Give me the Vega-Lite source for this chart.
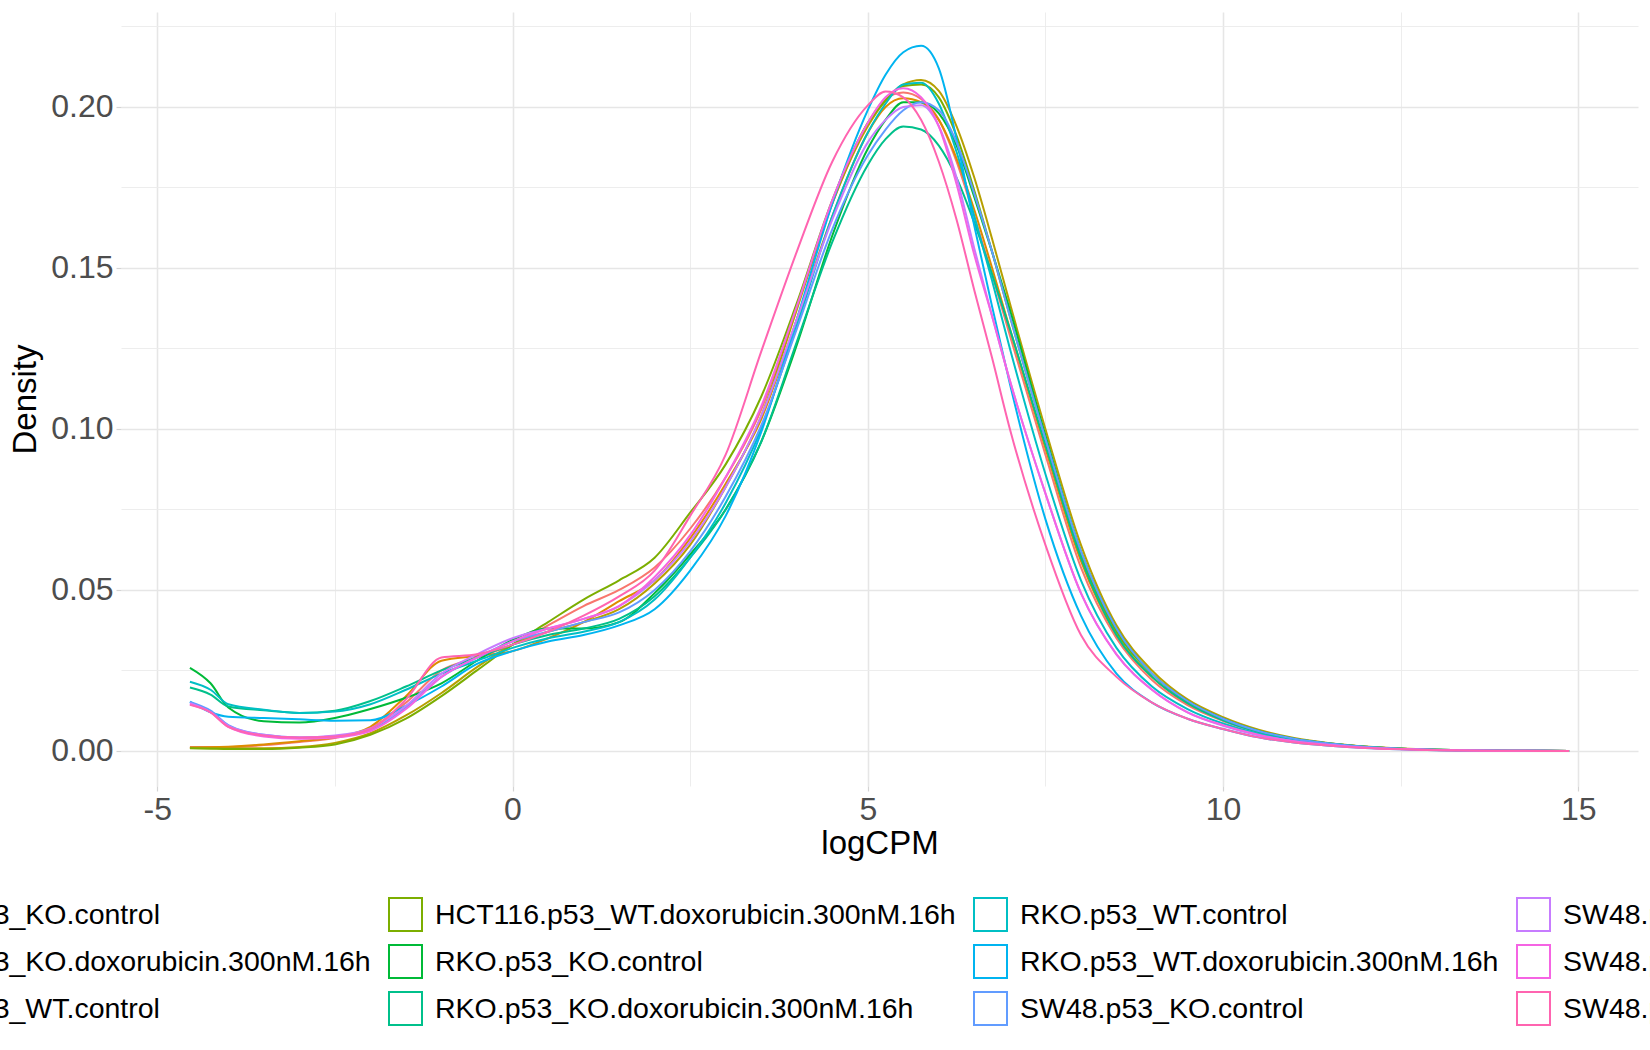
{
"$schema": "https://vega.github.io/schema/vega-lite/v6.json",
"width": 1517, "height": 774,
"autosize": {"type": "none"},
"padding": {"left": 121, "top": 12, "right": 12, "bottom": 264},
"background": "white",
"config": {"view": {"stroke": null}, "font": "Liberation Sans"},
"data": {"values": [
{"s":"HCT116.p53_KO.control","x":-4.54,"y":0.0012},{"s":"HCT116.p53_KO.control","x":-4.25,"y":0.0012},{"s":"HCT116.p53_KO.control","x":-4,"y":0.0012},{"s":"HCT116.p53_KO.control","x":-3.5,"y":0.0018},{"s":"HCT116.p53_KO.control","x":-3,"y":0.0028},{"s":"HCT116.p53_KO.control","x":-2.5,"y":0.004},{"s":"HCT116.p53_KO.control","x":-2,"y":0.007},{"s":"HCT116.p53_KO.control","x":-1.5,"y":0.015},{"s":"HCT116.p53_KO.control","x":-1,"y":0.025},{"s":"HCT116.p53_KO.control","x":-0.5,"y":0.029},{"s":"HCT116.p53_KO.control","x":0,"y":0.033},{"s":"HCT116.p53_KO.control","x":0.5,"y":0.039},{"s":"HCT116.p53_KO.control","x":1,"y":0.045},{"s":"HCT116.p53_KO.control","x":1.5,"y":0.05},{"s":"HCT116.p53_KO.control","x":2,"y":0.057},{"s":"HCT116.p53_KO.control","x":2.5,"y":0.069},{"s":"HCT116.p53_KO.control","x":3,"y":0.085},{"s":"HCT116.p53_KO.control","x":3.5,"y":0.106},{"s":"HCT116.p53_KO.control","x":4,"y":0.138},{"s":"HCT116.p53_KO.control","x":4.5,"y":0.17},{"s":"HCT116.p53_KO.control","x":5,"y":0.195},{"s":"HCT116.p53_KO.control","x":5.25,"y":0.2025},{"s":"HCT116.p53_KO.control","x":5.5,"y":0.2045},{"s":"HCT116.p53_KO.control","x":5.75,"y":0.2025},{"s":"HCT116.p53_KO.control","x":6,"y":0.196},{"s":"HCT116.p53_KO.control","x":6.25,"y":0.183},{"s":"HCT116.p53_KO.control","x":6.5,"y":0.166},{"s":"HCT116.p53_KO.control","x":6.75,"y":0.148},{"s":"HCT116.p53_KO.control","x":7,"y":0.129},{"s":"HCT116.p53_KO.control","x":7.5,"y":0.092},{"s":"HCT116.p53_KO.control","x":8,"y":0.057},{"s":"HCT116.p53_KO.control","x":8.5,"y":0.035},{"s":"HCT116.p53_KO.control","x":9,"y":0.022},{"s":"HCT116.p53_KO.control","x":9.5,"y":0.0142},{"s":"HCT116.p53_KO.control","x":10,"y":0.0093},{"s":"HCT116.p53_KO.control","x":10.5,"y":0.0058},{"s":"HCT116.p53_KO.control","x":11,"y":0.0035},{"s":"HCT116.p53_KO.control","x":11.5,"y":0.0021},{"s":"HCT116.p53_KO.control","x":12,"y":0.0012},{"s":"HCT116.p53_KO.control","x":12.5,"y":0.00065},{"s":"HCT116.p53_KO.control","x":13,"y":0.0003},{"s":"HCT116.p53_KO.control","x":14,"y":0.00005},{"s":"HCT116.p53_KO.control","x":14.87,"y":0},
{"s":"HCT116.p53_KO.doxorubicin.300nM.16h","x":-4.54,"y":0.001},{"s":"HCT116.p53_KO.doxorubicin.300nM.16h","x":-4.25,"y":0.0011},{"s":"HCT116.p53_KO.doxorubicin.300nM.16h","x":-4,"y":0.0013},{"s":"HCT116.p53_KO.doxorubicin.300nM.16h","x":-3.5,"y":0.002},{"s":"HCT116.p53_KO.doxorubicin.300nM.16h","x":-3,"y":0.003},{"s":"HCT116.p53_KO.doxorubicin.300nM.16h","x":-2.5,"y":0.0042},{"s":"HCT116.p53_KO.doxorubicin.300nM.16h","x":-2,"y":0.0075},{"s":"HCT116.p53_KO.doxorubicin.300nM.16h","x":-1.5,"y":0.017},{"s":"HCT116.p53_KO.doxorubicin.300nM.16h","x":-1,"y":0.028},{"s":"HCT116.p53_KO.doxorubicin.300nM.16h","x":-0.5,"y":0.0295},{"s":"HCT116.p53_KO.doxorubicin.300nM.16h","x":0,"y":0.031},{"s":"HCT116.p53_KO.doxorubicin.300nM.16h","x":0.5,"y":0.035},{"s":"HCT116.p53_KO.doxorubicin.300nM.16h","x":1,"y":0.04},{"s":"HCT116.p53_KO.doxorubicin.300nM.16h","x":1.5,"y":0.0465},{"s":"HCT116.p53_KO.doxorubicin.300nM.16h","x":2,"y":0.053},{"s":"HCT116.p53_KO.doxorubicin.300nM.16h","x":2.5,"y":0.066},{"s":"HCT116.p53_KO.doxorubicin.300nM.16h","x":3,"y":0.083},{"s":"HCT116.p53_KO.doxorubicin.300nM.16h","x":3.5,"y":0.103},{"s":"HCT116.p53_KO.doxorubicin.300nM.16h","x":4,"y":0.134},{"s":"HCT116.p53_KO.doxorubicin.300nM.16h","x":4.5,"y":0.166},{"s":"HCT116.p53_KO.doxorubicin.300nM.16h","x":5,"y":0.192},{"s":"HCT116.p53_KO.doxorubicin.300nM.16h","x":5.25,"y":0.2},{"s":"HCT116.p53_KO.doxorubicin.300nM.16h","x":5.5,"y":0.2027},{"s":"HCT116.p53_KO.doxorubicin.300nM.16h","x":5.75,"y":0.2015},{"s":"HCT116.p53_KO.doxorubicin.300nM.16h","x":6,"y":0.196},{"s":"HCT116.p53_KO.doxorubicin.300nM.16h","x":6.25,"y":0.184},{"s":"HCT116.p53_KO.doxorubicin.300nM.16h","x":6.5,"y":0.168},{"s":"HCT116.p53_KO.doxorubicin.300nM.16h","x":6.75,"y":0.15},{"s":"HCT116.p53_KO.doxorubicin.300nM.16h","x":7,"y":0.131},{"s":"HCT116.p53_KO.doxorubicin.300nM.16h","x":7.5,"y":0.094},{"s":"HCT116.p53_KO.doxorubicin.300nM.16h","x":8,"y":0.059},{"s":"HCT116.p53_KO.doxorubicin.300nM.16h","x":8.5,"y":0.036},{"s":"HCT116.p53_KO.doxorubicin.300nM.16h","x":9,"y":0.023},{"s":"HCT116.p53_KO.doxorubicin.300nM.16h","x":9.5,"y":0.0148},{"s":"HCT116.p53_KO.doxorubicin.300nM.16h","x":10,"y":0.0097},{"s":"HCT116.p53_KO.doxorubicin.300nM.16h","x":10.5,"y":0.006},{"s":"HCT116.p53_KO.doxorubicin.300nM.16h","x":11,"y":0.0037},{"s":"HCT116.p53_KO.doxorubicin.300nM.16h","x":11.5,"y":0.0022},{"s":"HCT116.p53_KO.doxorubicin.300nM.16h","x":12,"y":0.0013},{"s":"HCT116.p53_KO.doxorubicin.300nM.16h","x":12.5,"y":0.0007},{"s":"HCT116.p53_KO.doxorubicin.300nM.16h","x":13,"y":0.00034},{"s":"HCT116.p53_KO.doxorubicin.300nM.16h","x":14,"y":0.00005},{"s":"HCT116.p53_KO.doxorubicin.300nM.16h","x":14.87,"y":0},
{"s":"HCT116.p53_WT.control","x":-4.54,"y":0.001},{"s":"HCT116.p53_WT.control","x":-4.25,"y":0.0009},{"s":"HCT116.p53_WT.control","x":-4,"y":0.0008},{"s":"HCT116.p53_WT.control","x":-3.5,"y":0.0008},{"s":"HCT116.p53_WT.control","x":-3,"y":0.0012},{"s":"HCT116.p53_WT.control","x":-2.5,"y":0.0025},{"s":"HCT116.p53_WT.control","x":-2,"y":0.0055},{"s":"HCT116.p53_WT.control","x":-1.5,"y":0.011},{"s":"HCT116.p53_WT.control","x":-1,"y":0.018},{"s":"HCT116.p53_WT.control","x":-0.5,"y":0.026},{"s":"HCT116.p53_WT.control","x":0,"y":0.033},{"s":"HCT116.p53_WT.control","x":0.5,"y":0.037},{"s":"HCT116.p53_WT.control","x":1,"y":0.04},{"s":"HCT116.p53_WT.control","x":1.5,"y":0.044},{"s":"HCT116.p53_WT.control","x":2,"y":0.052},{"s":"HCT116.p53_WT.control","x":2.5,"y":0.064},{"s":"HCT116.p53_WT.control","x":3,"y":0.082},{"s":"HCT116.p53_WT.control","x":3.5,"y":0.104},{"s":"HCT116.p53_WT.control","x":4,"y":0.137},{"s":"HCT116.p53_WT.control","x":4.5,"y":0.17},{"s":"HCT116.p53_WT.control","x":5,"y":0.194},{"s":"HCT116.p53_WT.control","x":5.25,"y":0.202},{"s":"HCT116.p53_WT.control","x":5.5,"y":0.207},{"s":"HCT116.p53_WT.control","x":5.75,"y":0.2084},{"s":"HCT116.p53_WT.control","x":6,"y":0.205},{"s":"HCT116.p53_WT.control","x":6.25,"y":0.194},{"s":"HCT116.p53_WT.control","x":6.5,"y":0.178},{"s":"HCT116.p53_WT.control","x":6.75,"y":0.159},{"s":"HCT116.p53_WT.control","x":7,"y":0.139},{"s":"HCT116.p53_WT.control","x":7.5,"y":0.1},{"s":"HCT116.p53_WT.control","x":8,"y":0.064},{"s":"HCT116.p53_WT.control","x":8.5,"y":0.039},{"s":"HCT116.p53_WT.control","x":9,"y":0.025},{"s":"HCT116.p53_WT.control","x":9.5,"y":0.016},{"s":"HCT116.p53_WT.control","x":10,"y":0.0105},{"s":"HCT116.p53_WT.control","x":10.5,"y":0.0066},{"s":"HCT116.p53_WT.control","x":11,"y":0.004},{"s":"HCT116.p53_WT.control","x":11.5,"y":0.0024},{"s":"HCT116.p53_WT.control","x":12,"y":0.0014},{"s":"HCT116.p53_WT.control","x":12.5,"y":0.00075},{"s":"HCT116.p53_WT.control","x":13,"y":0.00037},{"s":"HCT116.p53_WT.control","x":14,"y":0.00005},{"s":"HCT116.p53_WT.control","x":14.87,"y":0},
{"s":"HCT116.p53_WT.doxorubicin.300nM.16h","x":-4.54,"y":0.0008},{"s":"HCT116.p53_WT.doxorubicin.300nM.16h","x":-4.25,"y":0.0007},{"s":"HCT116.p53_WT.doxorubicin.300nM.16h","x":-4,"y":0.0006},{"s":"HCT116.p53_WT.doxorubicin.300nM.16h","x":-3.5,"y":0.0006},{"s":"HCT116.p53_WT.doxorubicin.300nM.16h","x":-3,"y":0.001},{"s":"HCT116.p53_WT.doxorubicin.300nM.16h","x":-2.5,"y":0.002},{"s":"HCT116.p53_WT.doxorubicin.300nM.16h","x":-2,"y":0.005},{"s":"HCT116.p53_WT.doxorubicin.300nM.16h","x":-1.5,"y":0.01},{"s":"HCT116.p53_WT.doxorubicin.300nM.16h","x":-1,"y":0.017},{"s":"HCT116.p53_WT.doxorubicin.300nM.16h","x":-0.5,"y":0.025},{"s":"HCT116.p53_WT.doxorubicin.300nM.16h","x":0,"y":0.033},{"s":"HCT116.p53_WT.doxorubicin.300nM.16h","x":0.5,"y":0.04},{"s":"HCT116.p53_WT.doxorubicin.300nM.16h","x":1,"y":0.047},{"s":"HCT116.p53_WT.doxorubicin.300nM.16h","x":1.5,"y":0.053},{"s":"HCT116.p53_WT.doxorubicin.300nM.16h","x":2,"y":0.06},{"s":"HCT116.p53_WT.doxorubicin.300nM.16h","x":2.5,"y":0.074},{"s":"HCT116.p53_WT.doxorubicin.300nM.16h","x":3,"y":0.089},{"s":"HCT116.p53_WT.doxorubicin.300nM.16h","x":3.5,"y":0.11},{"s":"HCT116.p53_WT.doxorubicin.300nM.16h","x":4,"y":0.139},{"s":"HCT116.p53_WT.doxorubicin.300nM.16h","x":4.5,"y":0.171},{"s":"HCT116.p53_WT.doxorubicin.300nM.16h","x":5,"y":0.195},{"s":"HCT116.p53_WT.doxorubicin.300nM.16h","x":5.25,"y":0.202},{"s":"HCT116.p53_WT.doxorubicin.300nM.16h","x":5.5,"y":0.2065},{"s":"HCT116.p53_WT.doxorubicin.300nM.16h","x":5.75,"y":0.207},{"s":"HCT116.p53_WT.doxorubicin.300nM.16h","x":6,"y":0.203},{"s":"HCT116.p53_WT.doxorubicin.300nM.16h","x":6.25,"y":0.191},{"s":"HCT116.p53_WT.doxorubicin.300nM.16h","x":6.5,"y":0.174},{"s":"HCT116.p53_WT.doxorubicin.300nM.16h","x":6.75,"y":0.155},{"s":"HCT116.p53_WT.doxorubicin.300nM.16h","x":7,"y":0.135},{"s":"HCT116.p53_WT.doxorubicin.300nM.16h","x":7.5,"y":0.097},{"s":"HCT116.p53_WT.doxorubicin.300nM.16h","x":8,"y":0.061},{"s":"HCT116.p53_WT.doxorubicin.300nM.16h","x":8.5,"y":0.037},{"s":"HCT116.p53_WT.doxorubicin.300nM.16h","x":9,"y":0.024},{"s":"HCT116.p53_WT.doxorubicin.300nM.16h","x":9.5,"y":0.0152},{"s":"HCT116.p53_WT.doxorubicin.300nM.16h","x":10,"y":0.01},{"s":"HCT116.p53_WT.doxorubicin.300nM.16h","x":10.5,"y":0.0062},{"s":"HCT116.p53_WT.doxorubicin.300nM.16h","x":11,"y":0.0038},{"s":"HCT116.p53_WT.doxorubicin.300nM.16h","x":11.5,"y":0.0023},{"s":"HCT116.p53_WT.doxorubicin.300nM.16h","x":12,"y":0.0013},{"s":"HCT116.p53_WT.doxorubicin.300nM.16h","x":12.5,"y":0.0007},{"s":"HCT116.p53_WT.doxorubicin.300nM.16h","x":13,"y":0.00035},{"s":"HCT116.p53_WT.doxorubicin.300nM.16h","x":14,"y":0.00005},{"s":"HCT116.p53_WT.doxorubicin.300nM.16h","x":14.87,"y":0},
{"s":"RKO.p53_KO.control","x":-4.54,"y":0.0258},{"s":"RKO.p53_KO.control","x":-4.25,"y":0.021},{"s":"RKO.p53_KO.control","x":-4,"y":0.0135},{"s":"RKO.p53_KO.control","x":-3.5,"y":0.0092},{"s":"RKO.p53_KO.control","x":-3,"y":0.0088},{"s":"RKO.p53_KO.control","x":-2.5,"y":0.0102},{"s":"RKO.p53_KO.control","x":-2,"y":0.013},{"s":"RKO.p53_KO.control","x":-1.5,"y":0.0165},{"s":"RKO.p53_KO.control","x":-1,"y":0.021},{"s":"RKO.p53_KO.control","x":-0.5,"y":0.028},{"s":"RKO.p53_KO.control","x":0,"y":0.0345},{"s":"RKO.p53_KO.control","x":0.5,"y":0.038},{"s":"RKO.p53_KO.control","x":1,"y":0.038},{"s":"RKO.p53_KO.control","x":1.5,"y":0.04},{"s":"RKO.p53_KO.control","x":2,"y":0.049},{"s":"RKO.p53_KO.control","x":2.5,"y":0.061},{"s":"RKO.p53_KO.control","x":3,"y":0.075},{"s":"RKO.p53_KO.control","x":3.5,"y":0.096},{"s":"RKO.p53_KO.control","x":4,"y":0.126},{"s":"RKO.p53_KO.control","x":4.5,"y":0.16},{"s":"RKO.p53_KO.control","x":5,"y":0.187},{"s":"RKO.p53_KO.control","x":5.25,"y":0.196},{"s":"RKO.p53_KO.control","x":5.5,"y":0.2015},{"s":"RKO.p53_KO.control","x":5.75,"y":0.2015},{"s":"RKO.p53_KO.control","x":6,"y":0.198},{"s":"RKO.p53_KO.control","x":6.25,"y":0.188},{"s":"RKO.p53_KO.control","x":6.5,"y":0.172},{"s":"RKO.p53_KO.control","x":6.75,"y":0.155},{"s":"RKO.p53_KO.control","x":7,"y":0.137},{"s":"RKO.p53_KO.control","x":7.5,"y":0.098},{"s":"RKO.p53_KO.control","x":8,"y":0.062},{"s":"RKO.p53_KO.control","x":8.5,"y":0.038},{"s":"RKO.p53_KO.control","x":9,"y":0.024},{"s":"RKO.p53_KO.control","x":9.5,"y":0.0155},{"s":"RKO.p53_KO.control","x":10,"y":0.01},{"s":"RKO.p53_KO.control","x":10.5,"y":0.0062},{"s":"RKO.p53_KO.control","x":11,"y":0.0038},{"s":"RKO.p53_KO.control","x":11.5,"y":0.0023},{"s":"RKO.p53_KO.control","x":12,"y":0.0013},{"s":"RKO.p53_KO.control","x":12.5,"y":0.0007},{"s":"RKO.p53_KO.control","x":13,"y":0.00035},{"s":"RKO.p53_KO.control","x":14,"y":0.00005},{"s":"RKO.p53_KO.control","x":14.87,"y":0},
{"s":"RKO.p53_KO.doxorubicin.300nM.16h","x":-4.54,"y":0.0197},{"s":"RKO.p53_KO.doxorubicin.300nM.16h","x":-4.25,"y":0.0175},{"s":"RKO.p53_KO.doxorubicin.300nM.16h","x":-4,"y":0.0138},{"s":"RKO.p53_KO.doxorubicin.300nM.16h","x":-3.5,"y":0.0126},{"s":"RKO.p53_KO.doxorubicin.300nM.16h","x":-3,"y":0.0118},{"s":"RKO.p53_KO.doxorubicin.300nM.16h","x":-2.5,"y":0.0125},{"s":"RKO.p53_KO.doxorubicin.300nM.16h","x":-2,"y":0.0155},{"s":"RKO.p53_KO.doxorubicin.300nM.16h","x":-1.5,"y":0.02},{"s":"RKO.p53_KO.doxorubicin.300nM.16h","x":-1,"y":0.025},{"s":"RKO.p53_KO.doxorubicin.300nM.16h","x":-0.5,"y":0.029},{"s":"RKO.p53_KO.doxorubicin.300nM.16h","x":0,"y":0.033},{"s":"RKO.p53_KO.doxorubicin.300nM.16h","x":0.5,"y":0.036},{"s":"RKO.p53_KO.doxorubicin.300nM.16h","x":1,"y":0.038},{"s":"RKO.p53_KO.doxorubicin.300nM.16h","x":1.5,"y":0.041},{"s":"RKO.p53_KO.doxorubicin.300nM.16h","x":2,"y":0.048},{"s":"RKO.p53_KO.doxorubicin.300nM.16h","x":2.5,"y":0.06},{"s":"RKO.p53_KO.doxorubicin.300nM.16h","x":3,"y":0.075},{"s":"RKO.p53_KO.doxorubicin.300nM.16h","x":3.5,"y":0.096},{"s":"RKO.p53_KO.doxorubicin.300nM.16h","x":4,"y":0.127},{"s":"RKO.p53_KO.doxorubicin.300nM.16h","x":4.5,"y":0.158},{"s":"RKO.p53_KO.doxorubicin.300nM.16h","x":5,"y":0.182},{"s":"RKO.p53_KO.doxorubicin.300nM.16h","x":5.25,"y":0.19},{"s":"RKO.p53_KO.doxorubicin.300nM.16h","x":5.5,"y":0.1939},{"s":"RKO.p53_KO.doxorubicin.300nM.16h","x":5.75,"y":0.193},{"s":"RKO.p53_KO.doxorubicin.300nM.16h","x":6,"y":0.188},{"s":"RKO.p53_KO.doxorubicin.300nM.16h","x":6.25,"y":0.178},{"s":"RKO.p53_KO.doxorubicin.300nM.16h","x":6.5,"y":0.164},{"s":"RKO.p53_KO.doxorubicin.300nM.16h","x":6.75,"y":0.148},{"s":"RKO.p53_KO.doxorubicin.300nM.16h","x":7,"y":0.131},{"s":"RKO.p53_KO.doxorubicin.300nM.16h","x":7.5,"y":0.095},{"s":"RKO.p53_KO.doxorubicin.300nM.16h","x":8,"y":0.06},{"s":"RKO.p53_KO.doxorubicin.300nM.16h","x":8.5,"y":0.036},{"s":"RKO.p53_KO.doxorubicin.300nM.16h","x":9,"y":0.023},{"s":"RKO.p53_KO.doxorubicin.300nM.16h","x":9.5,"y":0.0148},{"s":"RKO.p53_KO.doxorubicin.300nM.16h","x":10,"y":0.0095},{"s":"RKO.p53_KO.doxorubicin.300nM.16h","x":10.5,"y":0.0059},{"s":"RKO.p53_KO.doxorubicin.300nM.16h","x":11,"y":0.0036},{"s":"RKO.p53_KO.doxorubicin.300nM.16h","x":11.5,"y":0.0022},{"s":"RKO.p53_KO.doxorubicin.300nM.16h","x":12,"y":0.0012},{"s":"RKO.p53_KO.doxorubicin.300nM.16h","x":12.5,"y":0.00066},{"s":"RKO.p53_KO.doxorubicin.300nM.16h","x":13,"y":0.00033},{"s":"RKO.p53_KO.doxorubicin.300nM.16h","x":14,"y":0.00005},{"s":"RKO.p53_KO.doxorubicin.300nM.16h","x":14.87,"y":0},
{"s":"RKO.p53_WT.control","x":-4.54,"y":0.0215},{"s":"RKO.p53_WT.control","x":-4.25,"y":0.019},{"s":"RKO.p53_WT.control","x":-4,"y":0.0145},{"s":"RKO.p53_WT.control","x":-3.5,"y":0.0128},{"s":"RKO.p53_WT.control","x":-3,"y":0.0118},{"s":"RKO.p53_WT.control","x":-2.5,"y":0.0122},{"s":"RKO.p53_WT.control","x":-2,"y":0.0145},{"s":"RKO.p53_WT.control","x":-1.5,"y":0.019},{"s":"RKO.p53_WT.control","x":-1,"y":0.024},{"s":"RKO.p53_WT.control","x":-0.5,"y":0.028},{"s":"RKO.p53_WT.control","x":0,"y":0.032},{"s":"RKO.p53_WT.control","x":0.5,"y":0.035},{"s":"RKO.p53_WT.control","x":1,"y":0.037},{"s":"RKO.p53_WT.control","x":1.5,"y":0.04},{"s":"RKO.p53_WT.control","x":2,"y":0.047},{"s":"RKO.p53_WT.control","x":2.5,"y":0.06},{"s":"RKO.p53_WT.control","x":3,"y":0.077},{"s":"RKO.p53_WT.control","x":3.5,"y":0.1},{"s":"RKO.p53_WT.control","x":4,"y":0.132},{"s":"RKO.p53_WT.control","x":4.5,"y":0.166},{"s":"RKO.p53_WT.control","x":5,"y":0.192},{"s":"RKO.p53_WT.control","x":5.25,"y":0.201},{"s":"RKO.p53_WT.control","x":5.5,"y":0.207},{"s":"RKO.p53_WT.control","x":5.75,"y":0.2075},{"s":"RKO.p53_WT.control","x":6,"y":0.201},{"s":"RKO.p53_WT.control","x":6.25,"y":0.186},{"s":"RKO.p53_WT.control","x":6.5,"y":0.166},{"s":"RKO.p53_WT.control","x":6.75,"y":0.146},{"s":"RKO.p53_WT.control","x":7,"y":0.125},{"s":"RKO.p53_WT.control","x":7.5,"y":0.086},{"s":"RKO.p53_WT.control","x":8,"y":0.053},{"s":"RKO.p53_WT.control","x":8.5,"y":0.032},{"s":"RKO.p53_WT.control","x":9,"y":0.02},{"s":"RKO.p53_WT.control","x":9.5,"y":0.013},{"s":"RKO.p53_WT.control","x":10,"y":0.0085},{"s":"RKO.p53_WT.control","x":10.5,"y":0.0053},{"s":"RKO.p53_WT.control","x":11,"y":0.0032},{"s":"RKO.p53_WT.control","x":11.5,"y":0.002},{"s":"RKO.p53_WT.control","x":12,"y":0.0011},{"s":"RKO.p53_WT.control","x":12.5,"y":0.0006},{"s":"RKO.p53_WT.control","x":13,"y":0.0003},{"s":"RKO.p53_WT.control","x":14,"y":0.00004},{"s":"RKO.p53_WT.control","x":14.87,"y":0},
{"s":"RKO.p53_WT.doxorubicin.300nM.16h","x":-4.54,"y":0.0153},{"s":"RKO.p53_WT.doxorubicin.300nM.16h","x":-4.25,"y":0.012},{"s":"RKO.p53_WT.doxorubicin.300nM.16h","x":-4,"y":0.0106},{"s":"RKO.p53_WT.doxorubicin.300nM.16h","x":-3.5,"y":0.0102},{"s":"RKO.p53_WT.doxorubicin.300nM.16h","x":-3,"y":0.0098},{"s":"RKO.p53_WT.doxorubicin.300nM.16h","x":-2.5,"y":0.0094},{"s":"RKO.p53_WT.doxorubicin.300nM.16h","x":-2,"y":0.0095},{"s":"RKO.p53_WT.doxorubicin.300nM.16h","x":-1.5,"y":0.014},{"s":"RKO.p53_WT.doxorubicin.300nM.16h","x":-1,"y":0.02},{"s":"RKO.p53_WT.doxorubicin.300nM.16h","x":-0.5,"y":0.027},{"s":"RKO.p53_WT.doxorubicin.300nM.16h","x":0,"y":0.031},{"s":"RKO.p53_WT.doxorubicin.300nM.16h","x":0.5,"y":0.034},{"s":"RKO.p53_WT.doxorubicin.300nM.16h","x":1,"y":0.036},{"s":"RKO.p53_WT.doxorubicin.300nM.16h","x":1.5,"y":0.039},{"s":"RKO.p53_WT.doxorubicin.300nM.16h","x":2,"y":0.044},{"s":"RKO.p53_WT.doxorubicin.300nM.16h","x":2.5,"y":0.056},{"s":"RKO.p53_WT.doxorubicin.300nM.16h","x":3,"y":0.073},{"s":"RKO.p53_WT.doxorubicin.300nM.16h","x":3.5,"y":0.099},{"s":"RKO.p53_WT.doxorubicin.300nM.16h","x":4,"y":0.134},{"s":"RKO.p53_WT.doxorubicin.300nM.16h","x":4.5,"y":0.17},{"s":"RKO.p53_WT.doxorubicin.300nM.16h","x":5,"y":0.199},{"s":"RKO.p53_WT.doxorubicin.300nM.16h","x":5.25,"y":0.21},{"s":"RKO.p53_WT.doxorubicin.300nM.16h","x":5.5,"y":0.217},{"s":"RKO.p53_WT.doxorubicin.300nM.16h","x":5.75,"y":0.219},{"s":"RKO.p53_WT.doxorubicin.300nM.16h","x":6,"y":0.212},{"s":"RKO.p53_WT.doxorubicin.300nM.16h","x":6.25,"y":0.19},{"s":"RKO.p53_WT.doxorubicin.300nM.16h","x":6.5,"y":0.163},{"s":"RKO.p53_WT.doxorubicin.300nM.16h","x":6.75,"y":0.138},{"s":"RKO.p53_WT.doxorubicin.300nM.16h","x":7,"y":0.114},{"s":"RKO.p53_WT.doxorubicin.300nM.16h","x":7.5,"y":0.072},{"s":"RKO.p53_WT.doxorubicin.300nM.16h","x":8,"y":0.042},{"s":"RKO.p53_WT.doxorubicin.300nM.16h","x":8.5,"y":0.024},{"s":"RKO.p53_WT.doxorubicin.300nM.16h","x":9,"y":0.015},{"s":"RKO.p53_WT.doxorubicin.300nM.16h","x":9.5,"y":0.01},{"s":"RKO.p53_WT.doxorubicin.300nM.16h","x":10,"y":0.0068},{"s":"RKO.p53_WT.doxorubicin.300nM.16h","x":10.5,"y":0.0042},{"s":"RKO.p53_WT.doxorubicin.300nM.16h","x":11,"y":0.0026},{"s":"RKO.p53_WT.doxorubicin.300nM.16h","x":11.5,"y":0.0016},{"s":"RKO.p53_WT.doxorubicin.300nM.16h","x":12,"y":0.0009},{"s":"RKO.p53_WT.doxorubicin.300nM.16h","x":12.5,"y":0.0005},{"s":"RKO.p53_WT.doxorubicin.300nM.16h","x":13,"y":0.00024},{"s":"RKO.p53_WT.doxorubicin.300nM.16h","x":14,"y":0.00003},{"s":"RKO.p53_WT.doxorubicin.300nM.16h","x":14.87,"y":0},
{"s":"SW48.p53_KO.control","x":-4.54,"y":0.0152},{"s":"SW48.p53_KO.control","x":-4.25,"y":0.0125},{"s":"SW48.p53_KO.control","x":-4,"y":0.008},{"s":"SW48.p53_KO.control","x":-3.5,"y":0.005},{"s":"SW48.p53_KO.control","x":-3,"y":0.0042},{"s":"SW48.p53_KO.control","x":-2.5,"y":0.0045},{"s":"SW48.p53_KO.control","x":-2,"y":0.0065},{"s":"SW48.p53_KO.control","x":-1.5,"y":0.0135},{"s":"SW48.p53_KO.control","x":-1,"y":0.023},{"s":"SW48.p53_KO.control","x":-0.5,"y":0.029},{"s":"SW48.p53_KO.control","x":0,"y":0.034},{"s":"SW48.p53_KO.control","x":0.5,"y":0.037},{"s":"SW48.p53_KO.control","x":1,"y":0.04},{"s":"SW48.p53_KO.control","x":1.5,"y":0.043},{"s":"SW48.p53_KO.control","x":2,"y":0.05},{"s":"SW48.p53_KO.control","x":2.5,"y":0.062},{"s":"SW48.p53_KO.control","x":3,"y":0.079},{"s":"SW48.p53_KO.control","x":3.5,"y":0.101},{"s":"SW48.p53_KO.control","x":4,"y":0.131},{"s":"SW48.p53_KO.control","x":4.5,"y":0.162},{"s":"SW48.p53_KO.control","x":5,"y":0.185},{"s":"SW48.p53_KO.control","x":5.25,"y":0.193},{"s":"SW48.p53_KO.control","x":5.5,"y":0.199},{"s":"SW48.p53_KO.control","x":5.75,"y":0.2015},{"s":"SW48.p53_KO.control","x":6,"y":0.199},{"s":"SW48.p53_KO.control","x":6.25,"y":0.189},{"s":"SW48.p53_KO.control","x":6.5,"y":0.173},{"s":"SW48.p53_KO.control","x":6.75,"y":0.155},{"s":"SW48.p53_KO.control","x":7,"y":0.135},{"s":"SW48.p53_KO.control","x":7.5,"y":0.097},{"s":"SW48.p53_KO.control","x":8,"y":0.062},{"s":"SW48.p53_KO.control","x":8.5,"y":0.038},{"s":"SW48.p53_KO.control","x":9,"y":0.024},{"s":"SW48.p53_KO.control","x":9.5,"y":0.0155},{"s":"SW48.p53_KO.control","x":10,"y":0.01},{"s":"SW48.p53_KO.control","x":10.5,"y":0.0062},{"s":"SW48.p53_KO.control","x":11,"y":0.0038},{"s":"SW48.p53_KO.control","x":11.5,"y":0.0023},{"s":"SW48.p53_KO.control","x":12,"y":0.0013},{"s":"SW48.p53_KO.control","x":12.5,"y":0.0007},{"s":"SW48.p53_KO.control","x":13,"y":0.00035},{"s":"SW48.p53_KO.control","x":14,"y":0.00005},{"s":"SW48.p53_KO.control","x":14.87,"y":0},
{"s":"SW48.p53_KO.doxorubicin.300nM.16h","x":-4.54,"y":0.0148},{"s":"SW48.p53_KO.doxorubicin.300nM.16h","x":-4.25,"y":0.012},{"s":"SW48.p53_KO.doxorubicin.300nM.16h","x":-4,"y":0.0078},{"s":"SW48.p53_KO.doxorubicin.300nM.16h","x":-3.5,"y":0.005},{"s":"SW48.p53_KO.doxorubicin.300nM.16h","x":-3,"y":0.0042},{"s":"SW48.p53_KO.doxorubicin.300nM.16h","x":-2.5,"y":0.0048},{"s":"SW48.p53_KO.doxorubicin.300nM.16h","x":-2,"y":0.007},{"s":"SW48.p53_KO.doxorubicin.300nM.16h","x":-1.5,"y":0.014},{"s":"SW48.p53_KO.doxorubicin.300nM.16h","x":-1,"y":0.024},{"s":"SW48.p53_KO.doxorubicin.300nM.16h","x":-0.5,"y":0.03},{"s":"SW48.p53_KO.doxorubicin.300nM.16h","x":0,"y":0.035},{"s":"SW48.p53_KO.doxorubicin.300nM.16h","x":0.5,"y":0.038},{"s":"SW48.p53_KO.doxorubicin.300nM.16h","x":1,"y":0.041},{"s":"SW48.p53_KO.doxorubicin.300nM.16h","x":1.5,"y":0.045},{"s":"SW48.p53_KO.doxorubicin.300nM.16h","x":2,"y":0.053},{"s":"SW48.p53_KO.doxorubicin.300nM.16h","x":2.5,"y":0.065},{"s":"SW48.p53_KO.doxorubicin.300nM.16h","x":3,"y":0.082},{"s":"SW48.p53_KO.doxorubicin.300nM.16h","x":3.5,"y":0.104},{"s":"SW48.p53_KO.doxorubicin.300nM.16h","x":4,"y":0.134},{"s":"SW48.p53_KO.doxorubicin.300nM.16h","x":4.5,"y":0.165},{"s":"SW48.p53_KO.doxorubicin.300nM.16h","x":5,"y":0.189},{"s":"SW48.p53_KO.doxorubicin.300nM.16h","x":5.25,"y":0.196},{"s":"SW48.p53_KO.doxorubicin.300nM.16h","x":5.5,"y":0.2},{"s":"SW48.p53_KO.doxorubicin.300nM.16h","x":5.75,"y":0.2005},{"s":"SW48.p53_KO.doxorubicin.300nM.16h","x":6,"y":0.194},{"s":"SW48.p53_KO.doxorubicin.300nM.16h","x":6.25,"y":0.178},{"s":"SW48.p53_KO.doxorubicin.300nM.16h","x":6.5,"y":0.156},{"s":"SW48.p53_KO.doxorubicin.300nM.16h","x":6.75,"y":0.135},{"s":"SW48.p53_KO.doxorubicin.300nM.16h","x":7,"y":0.115},{"s":"SW48.p53_KO.doxorubicin.300nM.16h","x":7.5,"y":0.08},{"s":"SW48.p53_KO.doxorubicin.300nM.16h","x":8,"y":0.049},{"s":"SW48.p53_KO.doxorubicin.300nM.16h","x":8.5,"y":0.03},{"s":"SW48.p53_KO.doxorubicin.300nM.16h","x":9,"y":0.019},{"s":"SW48.p53_KO.doxorubicin.300nM.16h","x":9.5,"y":0.012},{"s":"SW48.p53_KO.doxorubicin.300nM.16h","x":10,"y":0.0078},{"s":"SW48.p53_KO.doxorubicin.300nM.16h","x":10.5,"y":0.0048},{"s":"SW48.p53_KO.doxorubicin.300nM.16h","x":11,"y":0.003},{"s":"SW48.p53_KO.doxorubicin.300nM.16h","x":11.5,"y":0.0018},{"s":"SW48.p53_KO.doxorubicin.300nM.16h","x":12,"y":0.001},{"s":"SW48.p53_KO.doxorubicin.300nM.16h","x":12.5,"y":0.00055},{"s":"SW48.p53_KO.doxorubicin.300nM.16h","x":13,"y":0.00027},{"s":"SW48.p53_KO.doxorubicin.300nM.16h","x":14,"y":0.00004},{"s":"SW48.p53_KO.doxorubicin.300nM.16h","x":14.87,"y":0},
{"s":"SW48.p53_WT.control","x":-4.54,"y":0.0145},{"s":"SW48.p53_WT.control","x":-4.25,"y":0.012},{"s":"SW48.p53_WT.control","x":-4,"y":0.0075},{"s":"SW48.p53_WT.control","x":-3.5,"y":0.0045},{"s":"SW48.p53_WT.control","x":-3,"y":0.0038},{"s":"SW48.p53_WT.control","x":-2.5,"y":0.0042},{"s":"SW48.p53_WT.control","x":-2,"y":0.0062},{"s":"SW48.p53_WT.control","x":-1.5,"y":0.013},{"s":"SW48.p53_WT.control","x":-1,"y":0.023},{"s":"SW48.p53_WT.control","x":-0.5,"y":0.029},{"s":"SW48.p53_WT.control","x":0,"y":0.034},{"s":"SW48.p53_WT.control","x":0.5,"y":0.038},{"s":"SW48.p53_WT.control","x":1,"y":0.041},{"s":"SW48.p53_WT.control","x":1.5,"y":0.045},{"s":"SW48.p53_WT.control","x":2,"y":0.054},{"s":"SW48.p53_WT.control","x":2.5,"y":0.067},{"s":"SW48.p53_WT.control","x":3,"y":0.085},{"s":"SW48.p53_WT.control","x":3.5,"y":0.107},{"s":"SW48.p53_WT.control","x":4,"y":0.138},{"s":"SW48.p53_WT.control","x":4.5,"y":0.171},{"s":"SW48.p53_WT.control","x":5,"y":0.195},{"s":"SW48.p53_WT.control","x":5.25,"y":0.203},{"s":"SW48.p53_WT.control","x":5.5,"y":0.2058},{"s":"SW48.p53_WT.control","x":5.75,"y":0.203},{"s":"SW48.p53_WT.control","x":6,"y":0.194},{"s":"SW48.p53_WT.control","x":6.25,"y":0.176},{"s":"SW48.p53_WT.control","x":6.5,"y":0.154},{"s":"SW48.p53_WT.control","x":6.75,"y":0.135},{"s":"SW48.p53_WT.control","x":7,"y":0.115},{"s":"SW48.p53_WT.control","x":7.5,"y":0.08},{"s":"SW48.p53_WT.control","x":8,"y":0.049},{"s":"SW48.p53_WT.control","x":8.5,"y":0.03},{"s":"SW48.p53_WT.control","x":9,"y":0.019},{"s":"SW48.p53_WT.control","x":9.5,"y":0.012},{"s":"SW48.p53_WT.control","x":10,"y":0.008},{"s":"SW48.p53_WT.control","x":10.5,"y":0.005},{"s":"SW48.p53_WT.control","x":11,"y":0.003},{"s":"SW48.p53_WT.control","x":11.5,"y":0.0018},{"s":"SW48.p53_WT.control","x":12,"y":0.001},{"s":"SW48.p53_WT.control","x":12.5,"y":0.00056},{"s":"SW48.p53_WT.control","x":13,"y":0.00028},{"s":"SW48.p53_WT.control","x":14,"y":0.00004},{"s":"SW48.p53_WT.control","x":14.87,"y":0},
{"s":"SW48.p53_WT.doxorubicin.300nM.16h","x":-4.54,"y":0.0143},{"s":"SW48.p53_WT.doxorubicin.300nM.16h","x":-4.25,"y":0.012},{"s":"SW48.p53_WT.doxorubicin.300nM.16h","x":-4,"y":0.0075},{"s":"SW48.p53_WT.doxorubicin.300nM.16h","x":-3.5,"y":0.0048},{"s":"SW48.p53_WT.doxorubicin.300nM.16h","x":-3,"y":0.0042},{"s":"SW48.p53_WT.doxorubicin.300nM.16h","x":-2.5,"y":0.0045},{"s":"SW48.p53_WT.doxorubicin.300nM.16h","x":-2,"y":0.0068},{"s":"SW48.p53_WT.doxorubicin.300nM.16h","x":-1.5,"y":0.016},{"s":"SW48.p53_WT.doxorubicin.300nM.16h","x":-1,"y":0.029},{"s":"SW48.p53_WT.doxorubicin.300nM.16h","x":-0.5,"y":0.03},{"s":"SW48.p53_WT.doxorubicin.300nM.16h","x":0,"y":0.033},{"s":"SW48.p53_WT.doxorubicin.300nM.16h","x":0.5,"y":0.037},{"s":"SW48.p53_WT.doxorubicin.300nM.16h","x":1,"y":0.042},{"s":"SW48.p53_WT.doxorubicin.300nM.16h","x":1.5,"y":0.048},{"s":"SW48.p53_WT.doxorubicin.300nM.16h","x":2,"y":0.056},{"s":"SW48.p53_WT.doxorubicin.300nM.16h","x":2.5,"y":0.073},{"s":"SW48.p53_WT.doxorubicin.300nM.16h","x":3,"y":0.092},{"s":"SW48.p53_WT.doxorubicin.300nM.16h","x":3.5,"y":0.124},{"s":"SW48.p53_WT.doxorubicin.300nM.16h","x":4,"y":0.155},{"s":"SW48.p53_WT.doxorubicin.300nM.16h","x":4.5,"y":0.183},{"s":"SW48.p53_WT.doxorubicin.300nM.16h","x":5,"y":0.2005},{"s":"SW48.p53_WT.doxorubicin.300nM.16h","x":5.25,"y":0.2048},{"s":"SW48.p53_WT.doxorubicin.300nM.16h","x":5.5,"y":0.203},{"s":"SW48.p53_WT.doxorubicin.300nM.16h","x":5.75,"y":0.196},{"s":"SW48.p53_WT.doxorubicin.300nM.16h","x":6,"y":0.183},{"s":"SW48.p53_WT.doxorubicin.300nM.16h","x":6.25,"y":0.165},{"s":"SW48.p53_WT.doxorubicin.300nM.16h","x":6.5,"y":0.143},{"s":"SW48.p53_WT.doxorubicin.300nM.16h","x":6.75,"y":0.122},{"s":"SW48.p53_WT.doxorubicin.300nM.16h","x":7,"y":0.1},{"s":"SW48.p53_WT.doxorubicin.300nM.16h","x":7.5,"y":0.064},{"s":"SW48.p53_WT.doxorubicin.300nM.16h","x":8,"y":0.036},{"s":"SW48.p53_WT.doxorubicin.300nM.16h","x":8.5,"y":0.023},{"s":"SW48.p53_WT.doxorubicin.300nM.16h","x":9,"y":0.015},{"s":"SW48.p53_WT.doxorubicin.300nM.16h","x":9.5,"y":0.01},{"s":"SW48.p53_WT.doxorubicin.300nM.16h","x":10,"y":0.0068},{"s":"SW48.p53_WT.doxorubicin.300nM.16h","x":10.5,"y":0.0042},{"s":"SW48.p53_WT.doxorubicin.300nM.16h","x":11,"y":0.0026},{"s":"SW48.p53_WT.doxorubicin.300nM.16h","x":11.5,"y":0.0016},{"s":"SW48.p53_WT.doxorubicin.300nM.16h","x":12,"y":0.0009},{"s":"SW48.p53_WT.doxorubicin.300nM.16h","x":12.5,"y":0.00048},{"s":"SW48.p53_WT.doxorubicin.300nM.16h","x":13,"y":0.00024},{"s":"SW48.p53_WT.doxorubicin.300nM.16h","x":14,"y":0.00003},{"s":"SW48.p53_WT.doxorubicin.300nM.16h","x":14.87,"y":0}
]},
"layer": [
{
"mark": {"type": "point", "opacity": 0},
"encoding": {
"x": {"field": "x", "type": "quantitative", "scale": {"domain": [-5.51, 15.84], "nice": false, "zero": false},
"axis": {"orient": "bottom", "values": [-2.5, 2.5, 7.5, 12.5], "grid": true, "gridColor": "#EBEBEB", "gridWidth": 0.9, "labels": false, "ticks": false, "domain": false, "title": null}},
"y": {"field": "y", "type": "quantitative", "scale": {"domain": [-0.0109, 0.2295], "nice": false, "zero": false},
"axis": {"orient": "left", "values": [0.025, 0.075, 0.125, 0.175, 0.225], "grid": true, "gridColor": "#EBEBEB", "gridWidth": 0.9, "labels": false, "ticks": false, "domain": false, "title": null}}
}
},
{
"mark": {"type": "line", "strokeWidth": 2, "interpolate": "monotone"},
"encoding": {
"x": {"field": "x", "type": "quantitative", "scale": {"domain": [-5.51, 15.84], "nice": false, "zero": false},
"axis": {"orient": "bottom", "values": [-5, 0, 5, 10, 15], "labelExpr": "datum.value < 0 ? '-' + abs(datum.value) : '' + datum.value", "grid": true, "gridColor": "#E6E6E6", "gridWidth": 1.6, "domain": false, "ticks": true, "tickColor": "#D4D4D4", "tickSize": 5, "tickWidth": 1.2, "labelFontSize": 32, "labelColor": "#4D4D4D", "labelPadding": 3, "labelFlush": false, "title": "logCPM", "titleFontSize": 33, "titleFontWeight": "normal", "titleColor": "#000000", "titlePadding": 2}},
"y": {"field": "y", "type": "quantitative", "scale": {"domain": [-0.0109, 0.2295], "nice": false, "zero": false},
"axis": {"orient": "left", "values": [0, 0.05, 0.1, 0.15, 0.2], "format": ".2f", "grid": true, "gridColor": "#E6E6E6", "gridWidth": 1.6, "domain": false, "ticks": true, "tickColor": "#D4D4D4", "tickSize": 5, "tickWidth": 1.2, "labelFontSize": 32, "labelColor": "#4D4D4D", "labelPadding": 3, "labelFlush": false, "title": "Density", "titleFontSize": 33, "titleFontWeight": "normal", "titleColor": "#000000", "titlePadding": 8}},
"color": {"field": "s", "type": "nominal",
"scale": {
"domain": ["HCT116.p53_KO.control", "HCT116.p53_KO.doxorubicin.300nM.16h", "HCT116.p53_WT.control", "HCT116.p53_WT.doxorubicin.300nM.16h", "RKO.p53_KO.control", "RKO.p53_KO.doxorubicin.300nM.16h", "RKO.p53_WT.control", "RKO.p53_WT.doxorubicin.300nM.16h", "SW48.p53_KO.control", "SW48.p53_KO.doxorubicin.300nM.16h", "SW48.p53_WT.control", "SW48.p53_WT.doxorubicin.300nM.16h"],
"range": ["#F8766D", "#DE8C00", "#B79F00", "#7CAE00", "#00BA38", "#00C08B", "#00BFC4", "#00B4F0", "#619CFF", "#C77CFF", "#F564E3", "#FF64B0"]},
"legend": {"orient": "none", "legendX": -318, "legendY": 885, "columns": 4, "title": null, "padding": 0,
"symbolType": "square", "symbolSize": 1089, "symbolStrokeWidth": 2, "symbolFillColor": "transparent",
"labelFontSize": 28.5, "labelColor": "#000000", "labelOffset": 12, "labelLimit": 2000,
"columnPadding": 14, "rowPadding": 6, "gridAlign": "each"}}
}
}
],
"resolve": {"axis": {"x": "independent", "y": "independent"}}
}
